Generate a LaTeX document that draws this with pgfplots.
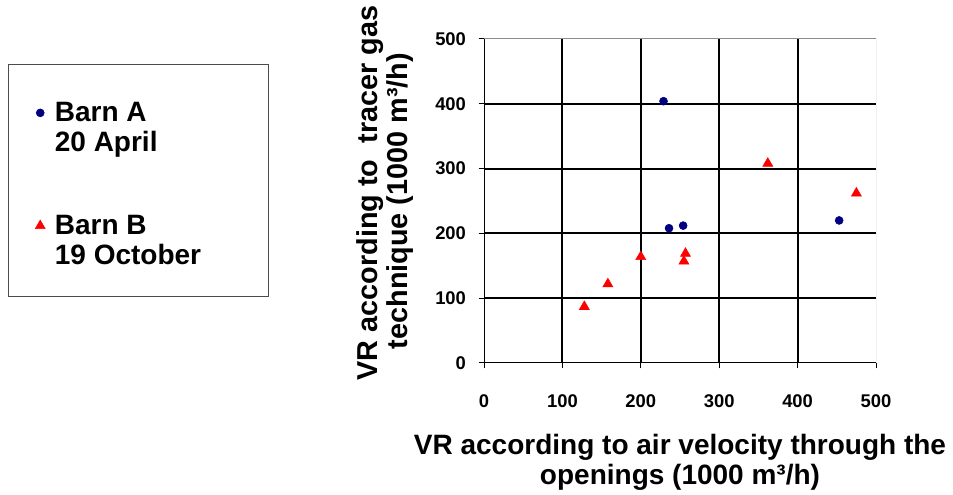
\documentclass[border=0pt]{standalone}
\usepackage{pgfplots}
\pgfplotsset{compat=1.18}
\usepackage{fontspec}
\setmainfont{Liberation Sans}
\definecolor{navyA}{RGB}{0,0,128}
\begin{document}
\begin{tikzpicture}
\useasboundingbox (0,0) rectangle (714.75pt,371.25pt);
\begin{axis}[
  at={(363pt,99pt)}, anchor=south west,
  scale only axis, width=294pt, height=243pt,
  xmin=0, xmax=500, ymin=0, ymax=500,
  axis x line*=bottom, axis y line*=left,
  axis line style={-, black, line width=0.75pt},
  xtick={100,200,300,400}, ytick={100,200,300,400},
  extra x ticks={0,500}, extra y ticks={0,500},
  extra x tick style={grid=none}, extra y tick style={grid=none},
  grid=major, grid style={black, line width=1.5pt},
  tick align=outside, major tick length=4pt,
  tick style={black, line width=0.75pt},
  /pgf/number format/assume math mode=true,
  tick label style={font=\bfseries\fontsize{13.8}{16}\selectfont},
  xticklabel style={yshift=-16pt},
  yticklabel style={xshift=-6pt},
  xlabel={VR according to air velocity through the\\openings (1000 m³/h)},
  ylabel={\hspace*{12pt}VR according to\ \ tracer gas\\technique (1000 m³/h)},
  xlabel style={at={(axis description cs:0.5,-0.219)}, anchor=north, inner sep=0pt, align=center, font=\bfseries\fontsize{21}{22.5}\selectfont},
  ylabel style={at={(axis description cs:-0.1786,0.5)}, anchor=south, inner sep=0pt, align=center, font=\bfseries\fontsize{21.6}{22.5}\selectfont},
  legend style={at={(axis description cs:-1.1862,0.9044)}, anchor=north west,
    draw=none, fill=none, inner xsep=12pt, inner ysep=22pt,
    row sep=64.75pt, font=\bfseries\fontsize{21}{22.5}\selectfont},
  legend image post style={xshift=8.25pt},
  legend cell align=left,
]
\addplot[only marks, mark=*, mark size=3pt, color=navyA] coordinates {
  (229,404) (236,208) (254,212) (453,220)
};
\addlegendentry{\parbox[t]{160pt}{\leftskip=5.25pt Barn A\\20 April}}
\addplot[only marks, mark=triangle*, mark size=4.3pt, color=red] coordinates {
  (128,87) (158,122) (200,164) (257,169) (255,157) (362,308) (475,262)
};
\addlegendentry{\parbox[t]{160pt}{\leftskip=5.25pt Barn B\\19 October}}
\draw[black!45, line width=0.75pt] (rel axis cs:0,1) -- (rel axis cs:1,1) -- (rel axis cs:1,0);
\end{axis}
\draw[black!70, line width=0.75pt] (6pt,322.5pt) rectangle (201pt,148.5pt);
\end{tikzpicture}
\end{document}
